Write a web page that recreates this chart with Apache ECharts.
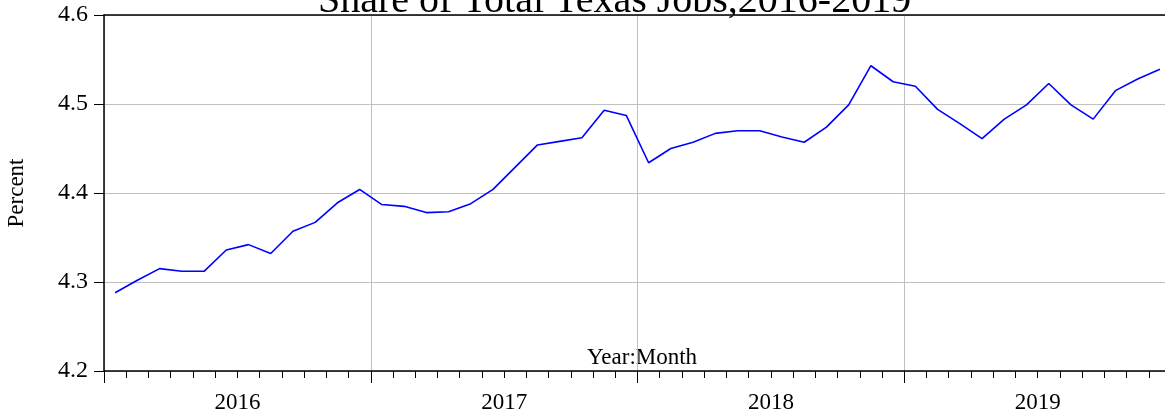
<!DOCTYPE html>
<html>
<head>
<meta charset="utf-8">
<script src="https://cdn.jsdelivr.net/npm/echarts@6/dist/echarts.min.js"></script>
<style>
  html, body { margin: 0; padding: 0; background: #fff; }
  #chart { width: 1165px; height: 415px; }
</style>
</head>
<body>
<div id="chart"></div>
<script>
const years = ["2016", "2017", "2018", "2019"];
const monthLabels = [];
years.forEach((y) => {
  for (let m = 1; m <= 12; m++) monthLabels.push(y + ":" + m);
});

const share2016 = [4.288, 4.302, 4.315, 4.312, 4.312, 4.336, 4.342, 4.332, 4.357, 4.367, 4.389, 4.404];
const share2017 = [4.387, 4.385, 4.378, 4.379, 4.388, 4.404, 4.429, 4.454, 4.458, 4.462, 4.493, 4.487];
const share2018 = [4.434, 4.450, 4.457, 4.467, 4.470, 4.470, 4.463, 4.457, 4.474, 4.499, 4.543, 4.525];
const share2019 = [4.520, 4.494, 4.478, 4.461, 4.483, 4.499, 4.523, 4.499, 4.483, 4.515, 4.528, 4.539];
const shareValues = share2016.concat(share2017, share2018, share2019);

const serif = "Liberation Serif";
const chart = echarts.init(document.getElementById("chart"));

const options = {
  animation: false,
  grid: { left: 104, right: -6, top: 15, bottom: 44, outerBoundsMode: "none" },
  graphic: [
    {
      type: "text",
      left: 318,
      top: -19,
      style: {
        text: "Share of Total Texas Jobs,2016-2019",
        font: "40px " + serif,
        fill: "#000",
      },
    },
    {
      type: "text",
      left: 587,
      top: 346,
      style: {
        text: "Year:Month",
        font: "23px " + serif,
        fill: "#000",
      },
    },
  ],
  xAxis: [
    {
      type: "category",
      data: monthLabels,
      boundaryGap: true,
      axisLine: { show: true, lineStyle: { color: "#000", width: 1.5 } },
      axisTick: { show: true, interval: 0, length: 7, lineStyle: { color: "#000" } },
      axisLabel: { show: false },
      splitLine: { show: false },
    },
    {
      type: "category",
      data: years,
      position: "bottom",
      boundaryGap: true,
      axisLine: { show: false },
      axisTick: { show: true, interval: 0, length: 12, lineStyle: { color: "#000" } },
      axisLabel: {
        interval: 0,
        margin: 20,
        color: "#000",
        fontFamily: serif,
        fontSize: 23,
      },
      splitLine: { show: true, lineStyle: { color: "#c0c0c0", width: 1 } },
    },
    {
      type: "category",
      data: years,
      position: "top",
      axisLine: { show: true, lineStyle: { color: "#000", width: 1.5 } },
      axisTick: { show: false },
      axisLabel: { show: false },
    },
  ],
  yAxis: {
    type: "value",
    min: 4.2,
    max: 4.6,
    interval: 0.1,
    name: "Percent",
    nameLocation: "middle",
    nameGap: 76,
    nameTextStyle: { color: "#000", fontFamily: serif, fontSize: 23 },
    axisLine: { show: true, lineStyle: { color: "#000", width: 1.5 } },
    axisTick: { show: true, length: 10, lineStyle: { color: "#000" } },
    axisLabel: {
      margin: 16,
      color: "#000",
      fontFamily: serif,
      fontSize: 24,
      formatter: (v) => v.toFixed(1),
    },
    splitLine: { show: true, lineStyle: { color: "#c0c0c0", width: 1 } },
  },
  series: [
    {
      name: "Share",
      type: "line",
      xAxisIndex: 0,
      data: shareValues,
      showSymbol: false,
      lineStyle: { color: "#0000ff", width: 1.6 },
    },
  ],
};

chart.setOption(options);
</script>
</body>
</html>
